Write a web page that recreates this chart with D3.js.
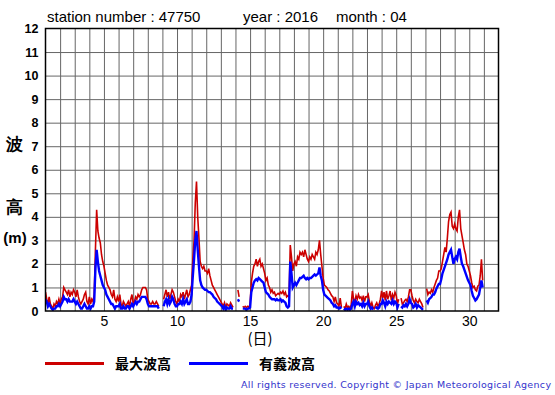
<!DOCTYPE html>
<html>
<head>
<meta charset="utf-8">
<script src="https://cdn.jsdelivr.net/npm/d3@7"></script>
<style>
  body { margin: 0; background: #fff; }
  svg { display: block; }
  text { font-family: "Liberation Sans", Arial, sans-serif; }
  .jp { font-family: "Noto Sans CJK JP", sans-serif; }
</style>
</head>
<body>
<div id="container"><svg id="canvas" width="555" height="395"></svg></div>
<script>
var canvas_width = 555, canvas_height = 395;

// ************************************************************************************** //
// Data (2-hourly readings from 1st 00:00, null = missing)

var stationNo = '47750', year = '2016', month = '04';
var dayTicks = [5, 10, 15, 20, 25, 30];
var heightTicks = [0, 1, 2, 3, 4, 5, 6, 7, 8, 9, 10, 11, 12];
var legendNames = ['最大波高', '有義波高'];

var maxWave = [
  0.8,0.5,0.3,0.6,0.3,0.2,0.1,0.3,0.2,0.4,0.3,0.5,
  0.3,0.5,0.6,1.0,0.9,0.8,0.7,0.9,0.6,0.8,0.7,0.9,
  0.8,0.6,0.9,0.6,0.4,0.3,0.4,0.5,0.7,0.8,0.4,0.3,
  0.6,0.3,0.5,0.4,0.7,2.6,4.3,3.4,3.1,2.9,2.4,2.1,
  1.9,1.6,1.3,1.1,1.0,0.9,0.7,0.6,0.9,0.5,0.4,0.6,
  0.4,0.7,0.3,0.2,0.4,0.3,0.2,0.3,0.4,0.2,0.5,0.7,
  0.3,0.4,0.6,0.5,0.7,0.6,0.7,0.9,1.0,1.0,1.0,0.9,
  0.5,0.4,0.3,0.3,0.4,0.3,0.3,0.4,0.3,0.2,null,null,
  null,0.5,0.7,0.9,0.6,0.8,0.5,0.7,0.9,0.8,0.6,0.4,
  0.3,0.5,0.4,0.7,0.6,0.8,0.5,0.7,0.9,0.6,0.7,0.9,
  1.1,2.2,3.0,4.6,5.5,4.0,3.1,2.1,1.9,1.8,1.9,1.7,
  1.7,1.6,1.8,1.5,1.3,1.1,1.0,0.9,0.8,0.7,0.6,0.5,
  0.4,0.3,0.2,0.35,0.15,0.3,0.25,0.2,0.35,0.25,0.15,null,
  null,null,0.9,0.6,null,null,0.2,0.15,0.2,0.15,0.2,0.15,
  0.3,1.2,1.6,1.9,2.0,2.2,1.9,2.1,2.2,1.9,2.0,1.8,
  1.6,1.3,1.4,1.1,1.0,0.8,0.9,0.75,0.8,0.65,0.7,0.75,
  0.7,0.8,0.75,0.85,0.7,0.8,0.6,0.65,0.6,2.8,2.3,1.7,
  2.0,2.1,1.9,2.3,2.2,2.5,2.4,2.5,2.3,2.6,2.4,2.2,
  2.1,2.3,2.2,2.4,2.3,2.2,2.5,2.4,2.6,3.0,2.4,1.9,
  1.4,1.1,1.05,1.0,0.9,0.85,0.75,0.65,0.6,0.4,0.6,0.35,
  0.3,0.2,0.55,0.15,null,0.2,0.1,0.3,0.15,0.2,0.1,0.25,
  0.85,0.5,0.4,0.65,0.5,0.7,0.55,0.6,0.45,0.65,0.4,0.6,
  0.6,0.7,0.4,0.2,0.35,0.15,0.1,0.25,0.35,0.2,0.3,0.5,
  0.85,0.55,0.8,0.45,0.85,0.5,0.65,0.85,0.45,0.7,0.55,0.8,
  0.65,0.3,0.5,null,0.55,0.3,0.35,0.45,0.5,0.4,0.6,0.9,
  0.9,0.65,0.45,0.35,0.5,0.4,0.35,0.5,0.4,0.3,0.15,null,
  null,0.95,0.7,0.8,0.75,0.9,0.8,1.0,1.15,1.3,1.4,1.7,
  1.7,1.8,2.1,2.4,2.7,2.5,3.1,3.8,4.1,4.2,3.6,3.5,
  3.7,3.5,3.4,4.0,4.3,3.5,3.2,2.9,2.6,2.4,2.0,1.9,
  1.7,1.5,1.2,1.0,1.05,0.9,0.85,1.05,1.1,1.5,2.2,1.3
];

var sigWave = [
  0.5,0.4,0.2,0.3,0.2,0.1,0.05,0.1,0.1,0.2,0.2,0.3,
  0.2,0.3,0.4,0.6,0.5,0.5,0.4,0.5,0.4,0.4,0.4,0.5,
  0.4,0.3,0.4,0.3,0.2,0.1,0.1,0.2,0.3,0.2,0.1,0.1,
  0.2,0.1,0.2,0.2,0.4,1.8,2.6,2.1,1.7,1.5,1.3,1.1,
  1.0,0.9,0.7,0.6,0.5,0.4,0.3,0.3,0.2,0.1,0.2,0.2,
  0.2,0.3,0.1,0.1,0.2,0.1,0.1,0.2,0.2,0.1,0.2,0.3,
  0.2,0.3,0.4,0.3,0.4,0.4,0.5,0.6,0.6,0.6,0.6,0.5,
  0.3,0.2,0.2,0.2,0.2,0.2,0.2,0.2,0.2,0.1,null,null,
  null,0.2,0.4,0.5,0.3,0.5,0.3,0.4,0.6,0.5,0.3,0.2,
  0.2,0.3,0.3,0.4,0.3,0.5,0.3,0.4,0.5,0.3,0.3,0.4,
  0.7,1.5,2.2,3.0,3.4,2.6,1.9,1.3,1.1,1.0,0.95,0.9,
  0.9,0.85,0.8,0.8,0.75,0.7,0.6,0.55,0.5,0.4,0.35,0.3,
  0.25,0.2,0.1,0.2,0.05,0.15,0.1,0.1,0.2,0.1,0.1,null,
  null,null,0.5,0.4,null,null,0.1,0.1,0.1,0.05,0.1,0.1,
  0.15,0.8,1.0,1.2,1.3,1.35,1.3,1.4,1.35,1.3,1.25,1.2,
  1.0,0.8,0.75,0.7,0.6,0.55,0.5,0.5,0.5,0.45,0.5,0.45,
  0.45,0.5,0.4,0.45,0.4,0.35,0.2,0.15,0.2,2.1,1.6,1.0,
  1.1,1.2,1.1,1.2,1.3,1.4,1.4,1.45,1.5,1.4,1.35,1.4,
  1.35,1.4,1.4,1.45,1.5,1.55,1.5,1.55,1.6,1.85,1.5,1.3,
  0.9,0.7,0.65,0.6,0.55,0.5,0.45,0.35,0.3,0.2,0.25,0.15,
  0.15,0.1,0.15,0.1,null,0.1,0.05,0.1,0.05,0.1,0.05,0.1,
  0.3,0.4,0.2,0.4,0.3,0.35,0.25,0.3,0.2,0.35,0.2,0.3,
  0.3,0.4,0.2,0.1,0.15,0.05,null,0.1,0.15,0.1,0.15,0.3,
  0.3,0.45,0.35,0.2,0.4,0.3,0.4,0.35,0.3,0.45,0.3,0.4,
  0.35,0.15,0.3,null,0.2,0.15,0.25,0.2,0.3,0.2,0.3,0.5,
  0.35,0.3,0.15,0.2,0.3,0.15,0.25,0.2,0.15,0.1,0.05,null,
  null,0.45,0.35,0.5,0.55,0.6,0.7,0.7,0.8,0.95,1.05,1.15,
  1.15,1.35,1.6,1.75,1.9,2.05,2.2,2.4,2.5,2.6,2.3,2.0,
  2.2,2.3,2.2,2.5,2.65,2.3,2.0,1.9,1.75,1.6,1.45,1.3,
  1.2,1.1,0.85,0.65,0.55,0.45,0.5,0.6,0.7,1.0,1.3,1.0
];

var time = maxWave.map((d,i) => 1 + i/12); // day of month, 2 h step

// ************************************************************************************** //
// Create

var graph = {};
graph.left = 45.5, graph.right = 498.5, graph.top = 28.5, graph.bottom = 311;

graph.create = function(){
  var svg = d3.select('#canvas');
  graph.xScale = d3.scaleLinear().domain([1, 32]).range([graph.left, graph.right]);
  graph.yScale = d3.scaleLinear().domain([0, 12]).range([graph.bottom, graph.top]);

  svg.append('clipPath').attr('id', 'plotClip').append('rect')
    .attr('x', graph.left).attr('y', graph.top)
    .attr('width', graph.right - graph.left).attr('height', graph.bottom - graph.top);

  // grid
  var xGrid = svg.append('g').attr('transform', 'translate(0,' + graph.bottom + ')')
    .call(d3.axisBottom(graph.xScale).tickValues(d3.range(2, 32)).tickSize(-(graph.bottom - graph.top)).tickFormat(''));
  var yGrid = svg.append('g').attr('transform', 'translate(' + graph.left + ',0)')
    .call(d3.axisLeft(graph.yScale).tickValues(heightTicks.slice(1, -1)).tickSize(-(graph.right - graph.left)).tickFormat(''));
  [xGrid, yGrid].forEach(g => {
    g.select('.domain').remove();
    g.selectAll('.tick line').attr('stroke', '#666').attr('stroke-width', 1);
  });

  // series
  var lineGen = d3.line()
    .defined(d => d.v !== null)
    .x(d => graph.xScale(d.t)).y(d => graph.yScale(d.v));
  var plot = svg.append('g').attr('clip-path', 'url(#plotClip)');
  plot.append('path').datum(time.map((t,i) => ({ t: t, v: maxWave[i] })))
    .attr('d', lineGen).attr('fill', 'none').attr('stroke', '#cc0000').attr('stroke-width', 1.6);
  plot.append('path').datum(time.map((t,i) => ({ t: t, v: sigWave[i] })))
    .attr('d', lineGen).attr('fill', 'none').attr('stroke', '#0000ff').attr('stroke-width', 2.4);

  // frame
  svg.append('rect').attr('x', graph.left).attr('y', graph.top)
    .attr('width', graph.right - graph.left).attr('height', graph.bottom - graph.top)
    .attr('fill', 'none').attr('stroke', '#000').attr('stroke-width', 1.5);

  // axes labels
  var yAxis = svg.append('g').attr('transform', 'translate(' + (graph.left - 1) + ',0)')
    .call(d3.axisLeft(graph.yScale).tickValues(heightTicks).tickSize(0).tickPadding(6));
  yAxis.select('.domain').remove();
  yAxis.selectAll('text').attr('font-size', 12.5).attr('font-weight', 'bold').attr('fill', '#000')
    .style('font-family', '"Liberation Sans", Arial, sans-serif');

  var xAxis = svg.append('g').attr('transform', 'translate(0,' + graph.bottom + ')')
    .call(d3.axisBottom(graph.xScale).tickValues(dayTicks).tickSize(0).tickPadding(5));
  xAxis.select('.domain').remove();
  xAxis.selectAll('text').attr('font-size', 14).attr('fill', '#000')
    .style('font-family', '"Liberation Sans", Arial, sans-serif');

  // titles
  var title = svg.append('g').attr('font-size', 15).attr('fill', '#000');
  title.append('text').attr('x', 47).attr('y', 22).text('station number : ' + stationNo);
  title.append('text').attr('x', 243).attr('y', 22).text('year : ' + year);
  title.append('text').attr('x', 336).attr('y', 22).text('month : ' + month);

  svg.append('text').attr('class', 'jp').attr('x', 260).attr('y', 344).attr('text-anchor', 'middle')
    .attr('font-size', 15).text('(日)');

  var yTitle = svg.append('g').attr('class', 'jp').attr('text-anchor', 'middle').attr('font-weight', 'bold');
  yTitle.append('text').attr('x', 14).attr('y', 150).attr('font-size', 17).text('波');
  yTitle.append('text').attr('x', 14).attr('y', 213).attr('font-size', 17).text('高');
  yTitle.append('text').attr('x', 15).attr('y', 243).attr('font-size', 15).text('(m)');

  // legend
  var legendColors = ['#cc0000', '#0000ff'];
  var legendX = [45, 189];
  legendNames.forEach((name, i) => {
    svg.append('line').attr('x1', legendX[i]).attr('x2', legendX[i] + 59).attr('y1', 363.5).attr('y2', 363.5)
      .attr('stroke', legendColors[i]).attr('stroke-width', 3);
    svg.append('text').attr('class', 'jp').attr('x', legendX[i] + 70).attr('y', 368.5)
      .attr('font-size', 14).attr('font-weight', 'bold').text(name);
  });

  svg.append('text').attr('x', 241).attr('y', 388).attr('font-size', 9.5).attr('fill', '#3333cc')
    .attr('textLength', 310).attr('lengthAdjust', 'spacing')
    .style('font-family', '"DejaVu Sans", Verdana, sans-serif')
    .text('All rights reserved. Copyright © Japan Meteorological Agency');
}

graph.create();
</script>
</body>
</html>
